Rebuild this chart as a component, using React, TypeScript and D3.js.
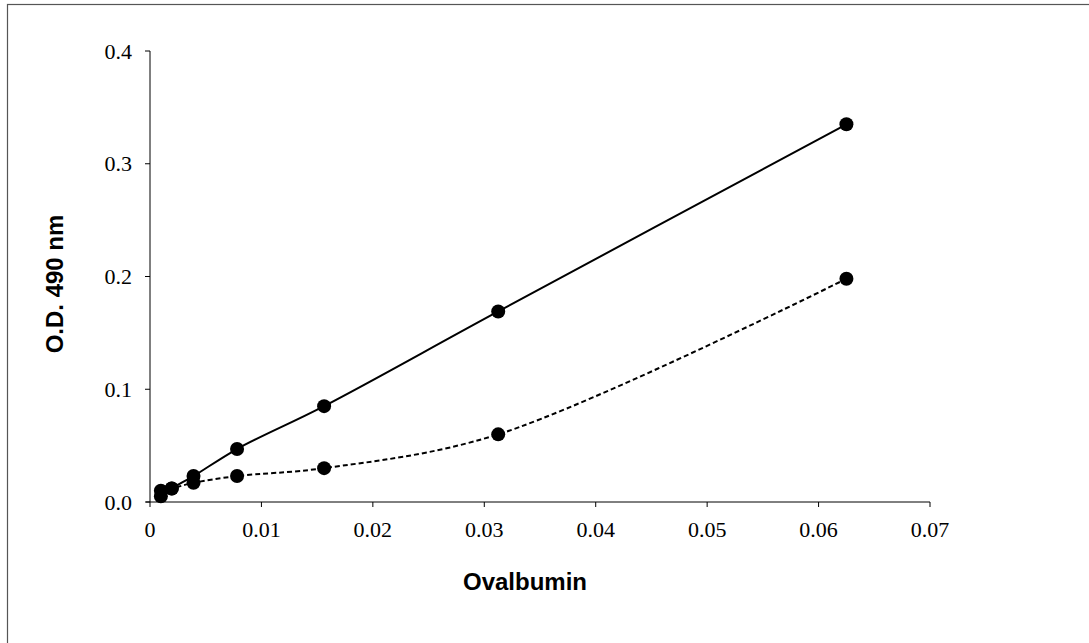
import * as d3 from 'd3'

const concentrations = [0.0009765625, 0.001953125, 0.00390625, 0.0078125, 0.015625, 0.03125, 0.0625]
const solidValues = [0.005, 0.012, 0.023, 0.047, 0.085, 0.169, 0.335]
const dashedValues = [0.010, 0.012, 0.017, 0.023, 0.030, 0.060, 0.198]
const xTicks = [0, 0.01, 0.02, 0.03, 0.04, 0.05, 0.06, 0.07]
const yTicks = [0, 0.1, 0.2, 0.3, 0.4]

const W = 1089
const H = 643
const m = { left: 150, right: 159, top: 51, bottom: 141 }

export default function App() {
  const x = d3.scaleLinear().domain([0, 0.07]).range([m.left, W - m.right])
  const y = d3.scaleLinear().domain([0, 0.4]).range([H - m.bottom, m.top])

  const line = d3
    .line<number>()
    .x((_, i) => x(concentrations[i]))
    .y((d) => y(d))
    .curve(d3.curveCatmullRom.alpha(0.5))

  const serif = '"Liberation Serif", "Times New Roman", serif'
  const sans = '"Liberation Sans", Arial, sans-serif'
  const x0 = x(0)
  const y0 = y(0)

  return (
    <svg
      width={W}
      height={H}
      style={{ position: 'absolute', left: 0, top: 0, background: '#fff' }}
    >
      <rect x={7.5} y={4.5} width={W + 10} height={H + 10} fill="none" stroke="#555" strokeWidth={1.2} />

      {/* axes */}
      <line x1={x0} x2={x0} y1={y(0.4)} y2={y0} stroke="#000" strokeWidth={1} />
      <line x1={x0 - 4} x2={x(0.07)} y1={y0} y2={y0} stroke="#000" strokeWidth={1} />
      {yTicks.map((t) => (
        <g key={`y${t}`}>
          <line x1={x0 - 5} x2={x0} y1={y(t)} y2={y(t)} stroke="#000" />
          <text x={x0 - 18} y={y(t)} dy="0.35em" textAnchor="end" fontFamily={serif} fontSize={22}>
            {t.toFixed(1)}
          </text>
        </g>
      ))}
      {xTicks.map((t) => (
        <g key={`x${t}`}>
          <line x1={x(t)} x2={x(t)} y1={y0} y2={y0 + 5} stroke="#000" />
          <text x={x(t)} y={y0 + 35} textAnchor="middle" fontFamily={serif} fontSize={22}>
            {t === 0 ? '0' : d3.format('.2f')(t)}
          </text>
        </g>
      ))}

      {/* series */}
      <path d={line(dashedValues) ?? ''} fill="none" stroke="#000" strokeWidth={2} strokeDasharray="5,3" />
      <path d={line(solidValues) ?? ''} fill="none" stroke="#000" strokeWidth={2} />
      {dashedValues.map((v, i) => (
        <circle key={`d${i}`} cx={x(concentrations[i])} cy={y(v)} r={7} fill="#000" />
      ))}
      {solidValues.map((v, i) => (
        <circle key={`s${i}`} cx={x(concentrations[i])} cy={y(v)} r={7} fill="#000" />
      ))}

      {/* titles */}
      <text x={525} y={590} textAnchor="middle" fontFamily={sans} fontWeight="bold" fontSize={24}>
        Ovalbumin
      </text>
      <text
        transform={`translate(63,284) rotate(-90)`}
        textAnchor="middle"
        fontFamily={sans}
        fontWeight="bold"
        fontSize={24}
      >
        O.D. 490 nm
      </text>
    </svg>
  )
}
